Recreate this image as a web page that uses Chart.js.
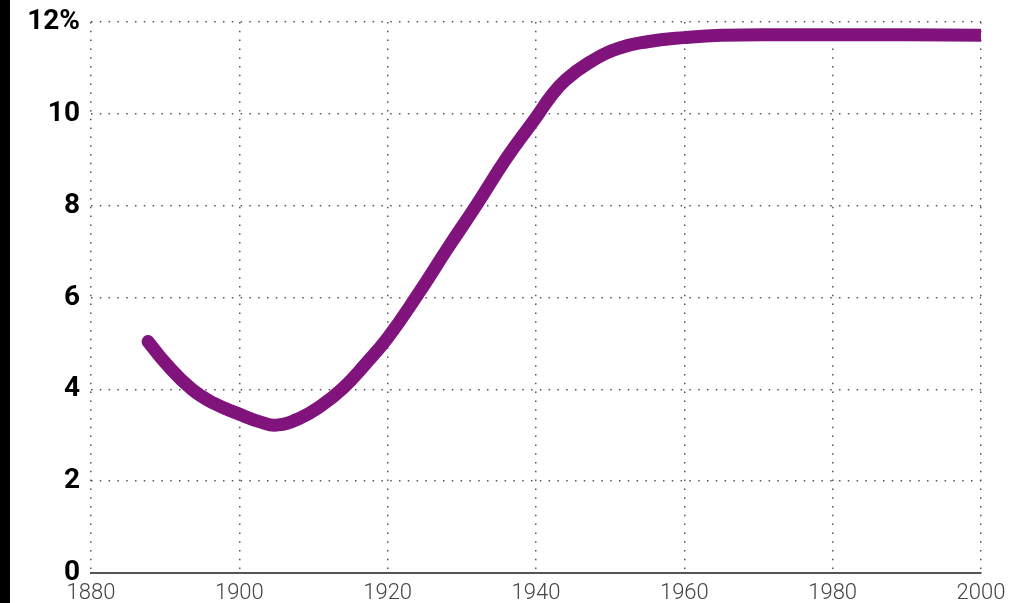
<!DOCTYPE html>
<html>
<head>
<meta charset="utf-8">
<script src="https://cdn.jsdelivr.net/npm/chart.js@4"></script>
<style>
  html, body { margin: 0; padding: 0; background: #fff; }
  .wrap { position: relative; width: 1010px; height: 603px; overflow: hidden; }
  .strip { position: absolute; left: 0; top: 0; width: 10px; height: 603px; background: #000; z-index: 2; }
</style>
</head>
<body>
<div class="wrap">
  <div class="strip"></div>
  <canvas id="chart" width="1010" height="603"></canvas>
</div>
<script>
// years and values
const years = [1887.7, 1890, 1893.6, 1896.5, 1900, 1903, 1905, 1908, 1911, 1914, 1917, 1920,
  1924, 1928, 1932, 1936, 1940, 1942, 1944, 1947, 1951, 1955, 1960, 1965, 1975, 1990, 2000];
const values = [5.04, 4.58, 4.0, 3.7, 3.46, 3.28, 3.22, 3.36, 3.64, 4.03, 4.55, 5.12,
  6.05, 7.05, 8.02, 9.03, 9.92, 10.38, 10.74, 11.1, 11.42, 11.57, 11.66, 11.71, 11.72, 11.72, 11.71];

const xTicks = [1880, 1900, 1920, 1940, 1960, 1980, 2000];
const yTicks = [0, 2, 4, 6, 8, 10, 12];

const points = years.map((y, i) => ({ x: y, y: values[i] }));

new Chart(document.getElementById('chart'), {
  type: 'line',
  data: {
    datasets: [{
      data: points,
      borderColor: '#80147c',
      borderWidth: 13,
      borderCapStyle: 'round',
      borderJoinStyle: 'round',
      pointRadius: 0,
      tension: 0.45,
      fill: false
    }]
  },
  options: {
    responsive: false,
    animation: false,
    layout: { autoPadding: false, padding: { top: 22, right: 29, left: 0, bottom: 0 } },
    plugins: { legend: { display: false }, tooltip: { enabled: false } },
    scales: {
      x: {
        type: 'linear',
        min: 1880,
        max: 2000,
        afterBuildTicks: scale => { scale.ticks = xTicks.map(v => ({ value: v })); },
        afterFit: scale => {
          scale.height = 30;
          // keep tick labels from pushing the plot area inwards
          scale.paddingLeft = 0;
          scale.paddingRight = 0;
        },
        grid: { color: '#555', lineWidth: 1.5, drawTicks: false },
        border: { display: true, color: '#555', width: 2, dash: [1.5, 7.3] },
        ticks: {
          padding: 9,
          color: '#444',
          maxRotation: 0,
          font: { family: 'Roboto', weight: 300, size: 22, lineHeight: 1 },
          callback: v => String(v)
        }
      },
      y: {
        min: 0,
        max: 12,
        afterBuildTicks: scale => { scale.ticks = yTicks.map(v => ({ value: v })); },
        afterFit: scale => {
          scale.width = 91;
          scale.paddingTop = 0;
          scale.paddingBottom = 0;
        },
        grid: {
          color: ctx => ctx.tick && ctx.tick.value === 0 ? 'rgba(0,0,0,0)' : '#555',
          lineWidth: 1.5,
          drawTicks: false
        },
        border: { display: false, dash: [1.5, 7.3] },
        ticks: {
          padding: 11,
          color: '#000',
          font: { family: 'Roboto', weight: 'bold', size: 28 },
          callback: v => v === 12 ? '12%' : v
        }
      }
    }
  }
});
</script>
</body>
</html>
